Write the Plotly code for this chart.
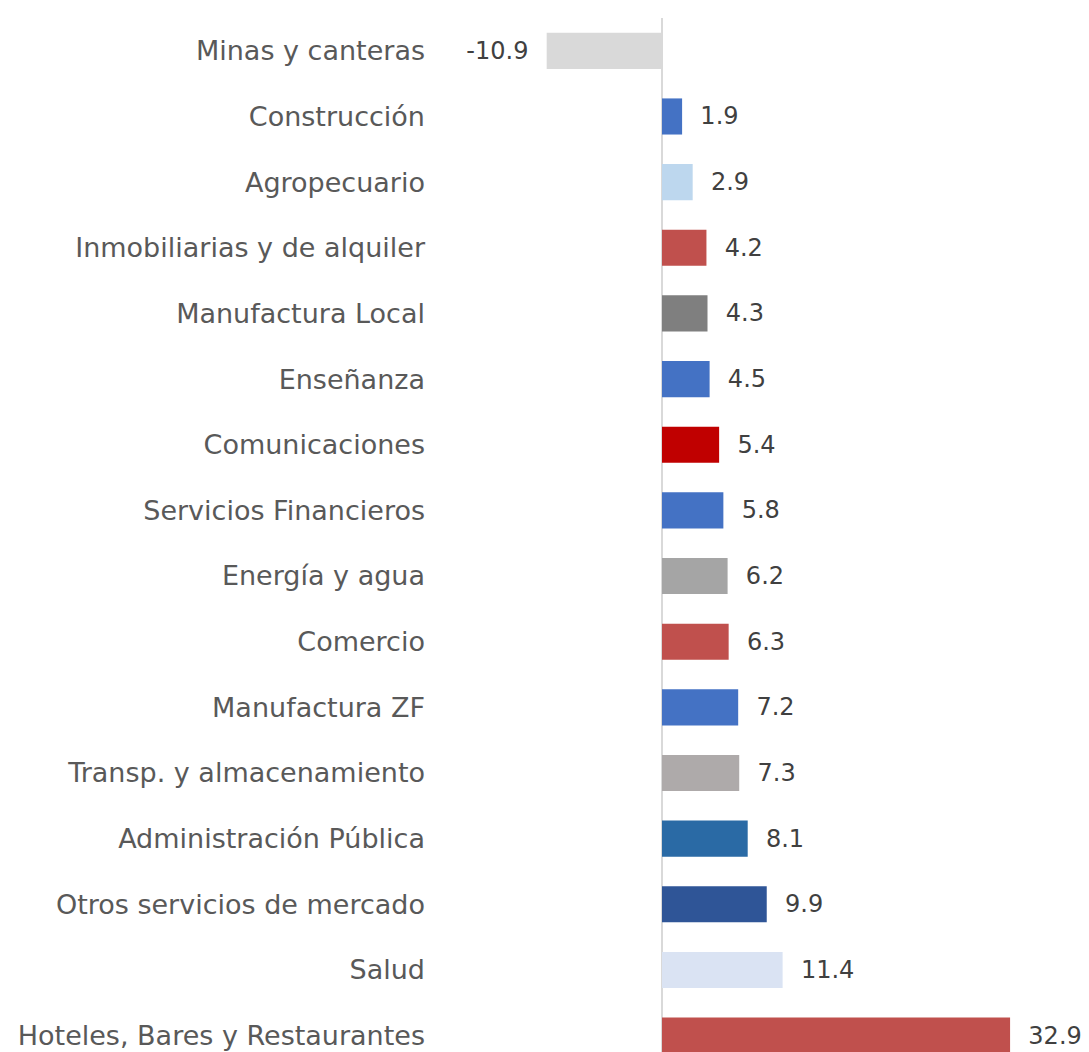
import plotly.graph_objects as go

categories = ["Minas y canteras", "Construcción", "Agropecuario", "Inmobiliarias y de alquiler",
              "Manufactura Local", "Enseñanza", "Comunicaciones", "Servicios Financieros",
              "Energía y agua", "Comercio", "Manufactura ZF", "Transp. y almacenamiento",
              "Administración Pública", "Otros servicios de mercado", "Salud",
              "Hoteles, Bares y Restaurantes"]
values = [-10.9, 1.9, 2.9, 4.2, 4.3, 4.5, 5.4, 5.8, 6.2, 6.3, 7.2, 7.3, 8.1, 9.9, 11.4, 32.9]
colors = ["#D9D9D9", "#4472C4", "#BDD7EE", "#C0504D", "#7F7F7F", "#4472C4", "#C00000", "#4472C4",
          "#A5A5A5", "#C0504D", "#4472C4", "#AEAAAA", "#2A6AA5", "#2F5597", "#DAE3F3", "#C0504D"]

pad = "\u00a0\u00a0"
labels = [(f"{v:.1f}" + pad) if v < 0 else (pad + f"{v:.1f}") for v in values]

FONT = "DejaVu Sans"

fig = go.Figure(go.Bar(
    x=values, y=categories, orientation="h",
    marker=dict(color=colors, line=dict(width=0)),
    width=0.55,
    text=labels, textposition="outside", cliponaxis=False,
    textfont=dict(size=24, color="#404040", family=FONT),
))

fig.update_layout(
    width=1081, height=1044,
    margin=dict(l=424, r=0, t=10, b=0),
    paper_bgcolor="white", plot_bgcolor="white",
    showlegend=False,
    font=dict(family=FONT, size=27, color="#595959"),
    xaxis=dict(range=[-21.74, 40.36], showgrid=False, zeroline=True, zerolinecolor="#D9D9D9",
               zerolinewidth=2, showticklabels=False, ticks=""),
    yaxis=dict(range=[15.25, -0.5], showgrid=False, ticks="", ticklabelstandoff=6,
               tickfont=dict(size=27, color="#595959", family=FONT)),
)

fig.write_html("out.html")
